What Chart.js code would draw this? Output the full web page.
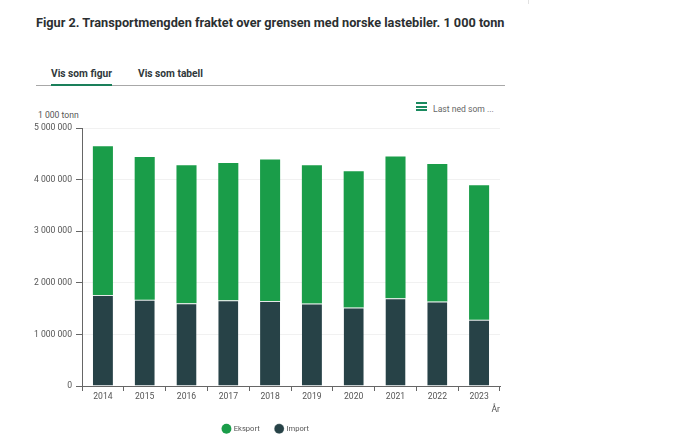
<!DOCTYPE html>
<html>
<head>
<meta charset="utf-8">
<script src="https://cdn.jsdelivr.net/npm/chart.js@4"></script>
<style>
html,body{margin:0;padding:0;background:#fff;width:700px;height:446px;overflow:hidden;font-family:Roboto,sans-serif;}
.abs{position:absolute;white-space:nowrap;}
#title{left:36px;top:15px;font-size:12.72px;font-weight:700;color:#2b2f31;}
.tab{top:68px;font-size:10.2px;font-weight:700;color:#30383b;}
#tabLine{left:36px;top:84.5px;width:469px;height:1px;background:#a8a8a8;}
#tabActive{left:51px;top:83.5px;width:61px;height:2px;background:#1a7f5a;}
#menu{left:416px;top:102px;width:11px;height:9px;}
#menu span{display:block;height:2px;margin-bottom:1.5px;background:#1a8a5f;}
#dl{left:433px;top:104px;font-size:8.6px;color:#666;}
#unit{left:38px;top:110px;font-size:8.6px;color:#555;}
#edge{left:528px;top:0;width:1px;height:4px;background:#e2e2e2;}
#chartWrap{position:absolute;left:32px;top:100px;width:488px;height:339px;}
</style>
</head>
<body>
<div id="edge" class="abs"></div>
<div id="title" class="abs">Figur 2. Transportmengden fraktet over grensen med norske lastebiler. 1 000 tonn</div>
<div class="abs tab" style="left:51px">Vis som figur</div>
<div class="abs tab" style="left:138px">Vis som tabell</div>
<div id="tabLine" class="abs"></div>
<div id="tabActive" class="abs"></div>
<div id="menu" class="abs"><span></span><span></span><span></span></div>
<div id="dl" class="abs">Last ned som ...</div>
<div id="unit" class="abs">1 000 tonn</div>
<div id="chartWrap"><canvas id="chart"></canvas></div>
<script>
const years = ['2014','2015','2016','2017','2018','2019','2020','2021','2022','2023'];
const importVals = [1765000,1670000,1605000,1660000,1645000,1600000,1520000,1700000,1640000,1285000];
const eksportVals = [2880000,2770000,2675000,2660000,2745000,2680000,2640000,2750000,2660000,2605000];

const fmt = v => String(v).replace(/\B(?=(\d{3})+$)/g,' ');
const tickFont = {family:'Roboto',size:8.6};
const axisCol = '#666';

// legend: wide gap between the items but not as tall as chart.js makes it
const legendHeight = {
  id:'legendHeight',
  beforeLayout(chart){
    const lg = chart.legend;
    if(!lg || lg._fitWrapped) return;
    const fit = lg.fit;
    lg.fit = function(){ fit.call(this); this.height = 30; };
    lg._fitWrapped = true;
  }
};

new Chart(document.getElementById('chart'),{
  type:'bar',
  data:{
    labels:years,
    datasets:[
      {label:'Import',data:importVals,backgroundColor:'#274247',borderColor:'#e4e9e8',borderWidth:{top:1},borderSkipped:false},
      {label:'Eksport',data:eksportVals,backgroundColor:'#1a9d49',borderWidth:0}
    ]
  },
  plugins:[legendHeight],
  options:{
    responsive:true,
    maintainAspectRatio:false,
    animation:false,
    categoryPercentage:1,
    barPercentage:0.48,
    layout:{padding:{top:28,right:20,bottom:0,left:0}},
    scales:{
      x:{
        stacked:true,
        afterFit:s=>{s.height=23;},
        grid:{drawOnChartArea:false,color:axisCol,tickLength:5,offset:true},
        border:{color:axisCol},
        ticks:{color:'#555',font:tickFont,padding:1,maxRotation:0},
        title:{display:true,text:'År',align:'end',color:'#555',font:tickFont,padding:{top:0,bottom:-6}}
      },
      y:{
        stacked:true,
        min:0,
        max:5000000,
        afterFit:s=>{s.width=50;},
        grid:{color:'#f1f1f1',tickColor:axisCol,tickLength:6},
        border:{color:axisCol},
        ticks:{stepSize:1000000,color:'#555',font:tickFont,padding:4,callback:v=>fmt(v)}
      }
    },
    plugins:{
      tooltip:{enabled:false},
      legend:{
        position:'bottom',
        reverse:true,
        labels:{usePointStyle:true,pointStyle:'circle',boxWidth:7,boxHeight:7,padding:16,color:'#555',font:{family:'Roboto',size:7.6}}
      }
    }
  }
});
</script>
</body>
</html>
